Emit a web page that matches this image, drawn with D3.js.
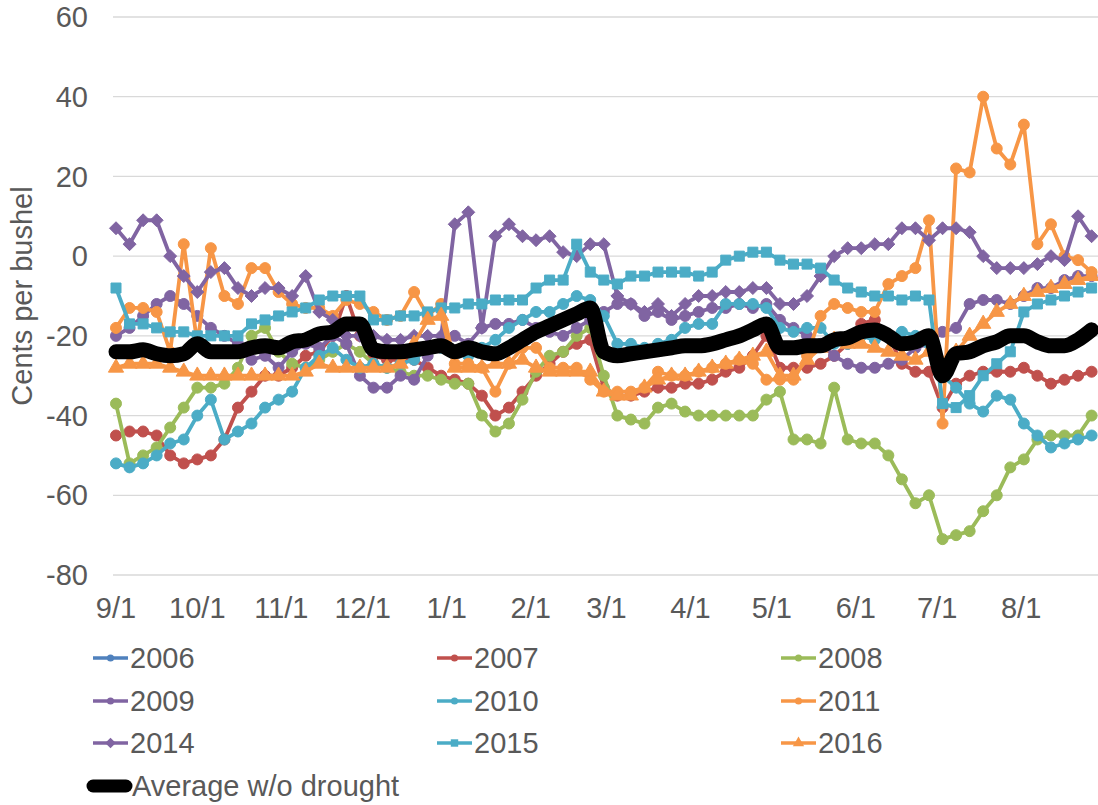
<!DOCTYPE html>
<html>
<head>
<meta charset="utf-8">
<script src="https://cdn.jsdelivr.net/npm/d3@7"></script>
<style>
  body { margin: 0; background: #fff; }
  text { font-family: "Liberation Sans", Arial, sans-serif; fill: #595959; }
</style>
</head>
<body>
<svg width="1098" height="805"></svg>
<script>
// days since 9/1, one value every 5 days
var days = [0,5,10,15,20,25,30,35,40,45,50,55,60,65,70,75,80,85,90,95,100,105,110,115,120,125,130,135,140,145,
  150,155,160,165,170,175,180,185,190,195,200,205,210,215,220,225,230,235,240,245,250,255,260,265,270,275,280,285,290,295,
  300,305,310,315,320,325,330,335,340,345,350,355,360];

var monthLabels = ["9/1","10/1","11/1","12/1","1/1","2/1","3/1","4/1","5/1","6/1","7/1","8/1"];
var monthDays = [0,30,61,91,122,153,181,212,242,273,303,334];
var yTicks = [60,40,20,0,-20,-40,-60,-80];

var v2006 = [];
var v2007 = [-45,-44,-44,-45,-50,-52,-51,-50,-46,-38, -34,-30,-30,-28,-25,-24,-20,-10,-20,-25,
  -26,-26,-26,-28,-30,-31,-32,-35,-40,-38, -34,-30,-27,-24,-22,-21,-33,-35,-35,-34,
  -33,-33,-32,-32,-31,-29,-28,-25,-20,-28, -28,-28,-27,-25,-22,-17,-16,-20,-27,-29,
  -29,-38,-32,-30,-29,-29,-29,-28,-30,-32, -31,-30,-29];
var v2008 = [-37,-52,-50,-48,-43,-38,-33,-33,-32,-28, -20,-18,-24,-27,-28,-26,-24,-22,-24,-27,
  -28,-29,-30,-30,-31,-32,-32,-40,-44,-42, -36,-29,-25,-24,-20,-18,-30,-40,-41,-42,
  -38,-37,-39,-40,-40,-40,-40,-40,-36,-34, -46,-46,-47,-33,-46,-47,-47,-50,-56,-62,
  -60,-71,-70,-69,-64,-60,-53,-51,-46,-45, -45,-45,-40];
var v2009 = [-20,-18,-15,-12,-10,-12,-15,-18,-20,-22, -26,-25,-28,-24,-22,-23,-20,-22,-30,-33,
  -33,-30,-31,-25,-22,-20,-22,-18,-17,-17, -16,-18,-19,-20,-18,-16,-14,-12,-12,-15,
  -14,-16,-15,-14,-13,-13,-12,-13,-12,-16, -18,-20,-22,-25,-27,-28,-28,-27,-26,-23,
  -22,-19,-18,-12,-11,-11,-12,-10,-8,-8, -6,-5,-5];
var v2010 = [-52,-53,-52,-50,-47,-46,-40,-36,-46,-44, -42,-38,-36,-34,-28,-25,-23,-26,-28,-27,
  -28,-27,-26,-23,-23,-24,-25,-23,-21,-18, -16,-14,-14,-12,-10,-11,-15,-22,-22,-23,
  -22,-21,-18,-17,-17,-12,-12,-12,-13,-18, -19,-18,-18,-22,-22,-20,-21,-20,-19,-20,
  -22,-30,-33,-37,-39,-35,-36,-42,-45,-48, -47,-46,-45];
var v2011 = [-18,-13,-13,-14,-24,3,-22,2,-10,-12, -3,-3,-9,-12,-13,-13,-15,-11,-12,-14,
  -16,-15,-9,-15,-12,-27,-27,-28,-34,-27, -23,-23,-28,-28,-28,-31,-34,-34,-34,-33,
  -29,-30,-30,-29,-28,-27,-26,-27,-31,-31, -31,-25,-15,-12,-13,-14,-14,-7,-5,-3,
  9,-42,22,21,40,27,23,33,3,8, 0,-1,-4];
var v2014 = [7,3,9,9,0,-5,-9,-4,-3,-8, -10,-8,-8,-10,-5,-14,-16,-20,-20,-20,
  -21,-21,-20,-20,-20,8,11,-18,5,8, 5,4,5,1,0,3,3,-10,-12,-14,
  -12,-15,-12,-10,-10,-9,-9,-8,-8,-12, -12,-10,-5,0,2,2,3,3,7,7,
  4,7,7,6,0,-3,-3,-3,-2,0, -1,10,5];
var v2015 = [-8,-17,-17,-18,-19,-19,-20,-20,-20,-20, -17,-16,-15,-14,-13,-11,-10,-10,-10,-16,
  -16,-15,-15,-14,-13,-13,-12,-12,-11,-11, -11,-8,-6,-6,3,-4,-6,-7,-5,-5,
  -4,-4,-4,-5,-4,-1,0,1,1,-1, -2,-2,-3,-6,-8,-9,-10,-10,-11,-10,
  -11,-37,-38,-35,-30,-27,-24,-14,-12,-11, -10,-9,-8];
var v2016 = [-28,-27,-27,-27,-28,-29,-30,-30,-30,-30, -30,-30,-30,-30,-29,-27,-28,-28,-28,-28,
  -28,-27,-22,-16,-15,-28,-28,-28,-27,-27, -26,-28,-29,-29,-29,-29,-34,-35,-35,-33,
  -31,-30,-30,-29,-28,-27,-26,-25,-24,-30, -30,-26,-23,-21,-22,-22,-23,-24,-25,-26,
  -24,-27,-24,-20,-17,-14,-12,-10,-9,-8, -7,-6,-5];
var vAverage = [-24,-24,-23.5,-24.5,-25,-24.5,-22,-24,-24,-24, -23,-22.5,-23,-21.5,-21,-19.5,-19,-17,-17,-23.5,
  -24,-24,-23.5,-23,-22.5,-24,-23,-24,-24.5,-23, -21,-19,-17.5,-16,-14.5,-13,-24,-25,-24.5,-24,
  -23.5,-23,-22.5,-22.5,-22,-21,-20,-18.5,-17,-23, -23,-22.5,-22.5,-21,-20.5,-19,-18.5,-20,-22,-21.5,
  -20,-30,-24.5,-24,-22.5,-21.5,-20,-20,-21.5,-22.5, -22.5,-21,-18.5];

var series = [
  {name: "2006", color: "#4F81BD", shape: "circle", values: v2006},
  {name: "2007", color: "#C0504D", shape: "circle", values: v2007},
  {name: "2008", color: "#9BBB59", shape: "circle", values: v2008},
  {name: "2009", color: "#8064A2", shape: "circle", values: v2009},
  {name: "2010", color: "#4BACC6", shape: "circle", values: v2010},
  {name: "2011", color: "#F79646", shape: "circle", values: v2011},
  {name: "2014", color: "#8064A2", shape: "diamond", values: v2014},
  {name: "2015", color: "#4BACC6", shape: "square", values: v2015},
  {name: "2016", color: "#F79646", shape: "triangle", values: v2016}
];

var svg = d3.select("svg");

var x = d3.scaleLinear().domain([0, 364]).range([116, 116 + 2.71 * 364]),
    y = d3.scaleLinear().domain([-80, 60]).range([575, 17]);

var diamond = {
  draw: function(context, size) {
    var r = Math.sqrt(size / 2);
    context.moveTo(0, -r);
    context.lineTo(r, 0);
    context.lineTo(0, r);
    context.lineTo(-r, 0);
    context.closePath();
  }
};
var shapes = {circle: d3.symbolCircle, diamond: diamond, square: d3.symbolSquare, triangle: d3.symbolTriangle};
var sizes = {circle: 95, diamond: 84, square: 100, triangle: 100};

// gridlines
svg.append("g")
  .selectAll("line")
  .data(yTicks)
  .enter().append("line")
    .attr("x1", 113)
    .attr("x2", 1098)
    .attr("y1", function(d) { return y(d); })
    .attr("y2", function(d) { return y(d); })
    .attr("stroke", "#D9D9D9")
    .attr("stroke-width", 1.3);

svg.append("g")
  .selectAll("text")
  .data(yTicks)
  .enter().append("text")
    .attr("x", 88)
    .attr("y", function(d) { return y(d); })
    .attr("dy", "0.35em")
    .attr("text-anchor", "end")
    .attr("font-size", 29)
    .text(function(d) { return d; });

svg.append("g")
  .selectAll("text")
  .data(monthLabels)
  .enter().append("text")
    .attr("x", function(d, i) { return x(monthDays[i]); })
    .attr("y", 608)
    .attr("dy", "0.35em")
    .attr("text-anchor", "middle")
    .attr("font-size", 29)
    .text(function(d) { return d; });

svg.append("text")
  .attr("transform", "translate(22,296) rotate(-90)")
  .attr("dy", "0.35em")
  .attr("text-anchor", "middle")
  .attr("font-size", 29)
  .text("Cents per bushel");

var line = d3.line()
  .x(function(d) { return x(d[0]); })
  .y(function(d) { return y(d[1]); });

var plot = svg.append("g");

series.forEach(function(s) {
  var pts = s.values.map(function(v, i) { return [days[i], v]; });
  var g = plot.append("g");
  g.append("path")
    .datum(pts)
    .attr("fill", "none")
    .attr("stroke", s.color)
    .attr("stroke-width", 3.8)
    .attr("stroke-linejoin", "round")
    .attr("d", line);
  g.selectAll("path.m")
    .data(pts)
    .enter().append("path")
      .attr("class", "m")
      .attr("transform", function(d) { return "translate(" + x(d[0]) + "," + y(d[1]) + ")"; })
      .attr("d", d3.symbol().type(shapes[s.shape]).size(sizes[s.shape]))
      .attr("fill", s.color)
      .attr("stroke", s.color)
      .attr("stroke-width", 1);
});

plot.append("path")
  .datum(vAverage.map(function(v, i) { return [days[i], v]; }))
  .attr("fill", "none")
  .attr("stroke", "#000")
  .attr("stroke-width", 15)
  .attr("stroke-linejoin", "round")
  .attr("stroke-linecap", "round")
  .attr("d", line.curve(d3.curveMonotoneX));

// legend
var legendX = [93, 437, 781],
    legendY = [658, 701, 743];

var leg = svg.append("g");
series.forEach(function(s, i) {
  var lx = legendX[i % 3], ly = legendY[Math.floor(i / 3)];
  var item = leg.append("g").attr("transform", "translate(" + lx + "," + ly + ")");
  item.append("line")
    .attr("x1", 0).attr("x2", 35)
    .attr("stroke", s.color)
    .attr("stroke-width", 3.5);
  item.append("path")
    .attr("transform", "translate(17.5,0)")
    .attr("d", d3.symbol().type(shapes[s.shape]).size(s.shape === "circle" ? 40 : 55))
    .attr("fill", s.color);
  item.append("text")
    .attr("x", 37)
    .attr("dy", "0.35em")
    .attr("font-size", 29)
    .text(s.name);
});

var avgItem = leg.append("g").attr("transform", "translate(93,786)");
avgItem.append("line")
  .attr("x1", 0).attr("x2", 33)
  .attr("stroke", "#000")
  .attr("stroke-width", 13)
  .attr("stroke-linecap", "round");
avgItem.append("text")
  .attr("x", 39)
  .attr("dy", "0.35em")
  .attr("font-size", 29)
  .text("Average w/o drought");
</script>
</body>
</html>
